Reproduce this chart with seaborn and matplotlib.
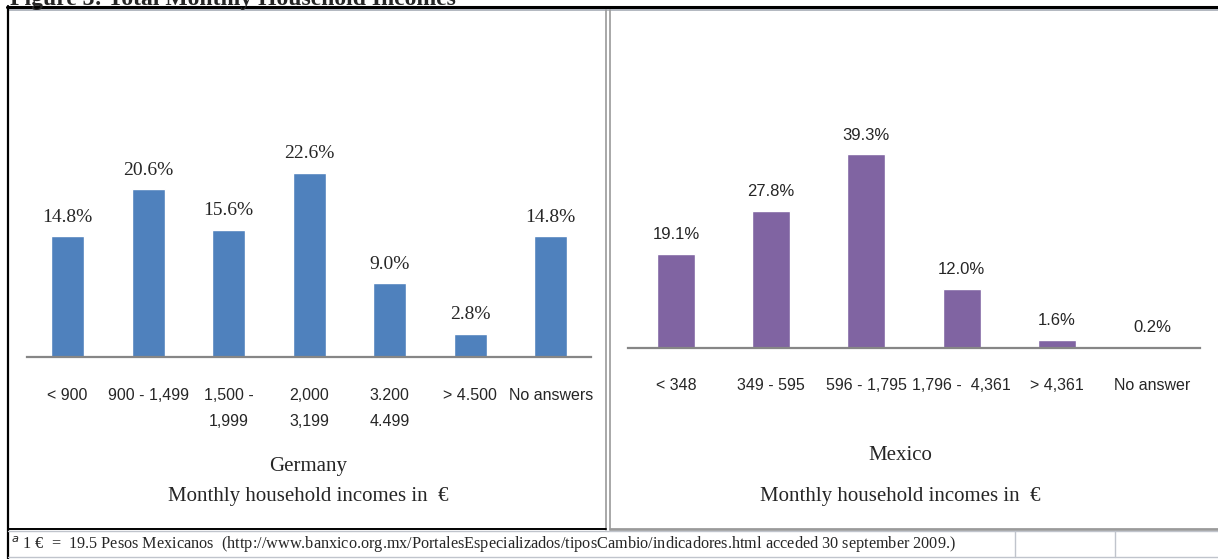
import matplotlib
matplotlib.use("Agg")
import matplotlib.pyplot as plt
import seaborn as sns
import pandas as pd
from matplotlib.lines import Line2D

# ---- data ----
de_categories = ["< 900", "900 - 1,499", "1,500 -\n1,999", "2,000\n3,199", "3.200\n4.499", "> 4.500", "No answers"]
de_values = [14.8, 20.6, 15.6, 22.6, 9.0, 2.8, 14.8]
mx_categories = ["< 348", "349 - 595", "596 - 1,795", "1,796 -  4,361", "> 4,361", "No answer"]
mx_values = [19.1, 27.8, 39.3, 12.0, 1.6, 0.2]
de_title = "Germany"
mx_title = "Mexico"
xlabel = "Monthly household incomes in  \u20ac"
footnote = "$^{a}$ 1 \u20ac  =  19.5 Pesos Mexicanos  (http://www.banxico.org.mx/PortalesEspecializados/tiposCambio/indicadores.html acceded 30 september 2009.)"
fig_title = "Figure 3: Total Monthly Household Incomes"

sns.set_theme(style="white")
plt.rcParams['font.family'] = ['Liberation Sans Narrow', 'Liberation Sans', 'DejaVu Sans']

W, H = 1218, 559
fig = plt.figure(figsize=(W / 100, H / 100), dpi=100)

def fx(px):
    return px / W

def fy(py):
    return 1 - py / H

serif = ['Liberation Serif', 'DejaVu Serif']

# ---- left axes (Germany) ----
L_base, L_top, L_scale = 356.5, 40, 8.12
axL = fig.add_axes([fx(27.3), fy(L_base), fx(591 - 27.3), (L_base - L_top) / H])
dfL = pd.DataFrame({"cat": de_categories, "val": de_values})
sns.barplot(data=dfL, x="cat", y="val", color="#4F81BD", saturation=1, width=0.41, ax=axL)
axL.set_ylim(0, (L_base - L_top) / L_scale)
axL.set_xlim(-0.5, len(de_categories) - 0.5)
for i, v in enumerate(de_values):
    axL.text(i, v + 1.3, f"{v:.1f}%", ha="center", va="bottom", fontsize=14,
             family=serif)

# ---- right axes (Mexico) ----
R_base, R_top, R_scale = 347.7, 53, 4.93
axR = fig.add_axes([fx(628.4), fy(R_base), fx(1199.6 - 628.4), (R_base - R_top) / H])
dfR = pd.DataFrame({"cat": mx_categories, "val": mx_values})
sns.barplot(data=dfR, x="cat", y="val", color="#8064A2", saturation=1, width=0.40, ax=axR)
axR.set_ylim(0, (R_base - R_top) / R_scale)
axR.set_xlim(-0.5, len(mx_categories) - 0.5)
for i, v in enumerate(mx_values):
    axR.text(i, v + 2.3, f"{v:.1f}%", ha="center", va="bottom", fontsize=12)

for ax, pad in ((axL, 23), (axR, 22)):
    for s in ("top", "right", "left"):
        ax.spines[s].set_visible(False)
    ax.spines["bottom"].set_color("#868686")
    ax.spines["bottom"].set_linewidth(1.6)
    ax.set_yticks([])
    ax.set_xlabel("")
    ax.set_ylabel("")
    ax.tick_params(axis="x", length=0, pad=pad, labelsize=11.5)
    ax.set_facecolor("none")
    for lab in ax.get_xticklabels():
        lab.set_verticalalignment("top")
        lab.set_linespacing(1.85)

# titles
fig.text(fx(308), fy(467), de_title, ha="center", va="center", fontsize=15, family=serif)
fig.text(fx(308), fy(497), xlabel, ha="center", va="center", fontsize=15, family=serif)
fig.text(fx(900), fy(455), mx_title, ha="center", va="center", fontsize=15, family=serif)
fig.text(fx(900), fy(497), xlabel, ha="center", va="center", fontsize=15, family=serif)

# footnote
fig.text(fx(11), fy(545), footnote, ha="left", va="center", fontsize=11.7, family=serif)

# figure title (clipped by the top edge as in the reference)
fig.text(fx(10), fy(-1), fig_title, ha="left", va="center", fontsize=17,
         fontweight="bold", family=serif)

# ---- borders ----
def line(x0, y0, x1, y1, color="black", lw=1.0):
    fig.add_artist(Line2D([fx(x0), fx(x1)], [fy(y0), fy(y1)], color=color, lw=lw))

line(7, 6.5, 1218, 6.5, "black", 2.2)       # top
line(8, 9.5, 1218, 9.5, "#A6ABB5", 1.2)     # gray under top
line(8, 6, 8, 559, "black", 1.6)            # left
line(606, 10, 606, 530, "#9A9A9A", 1.2)     # divider
line(610, 10, 610, 530, "#9A9A9A", 1.2)
line(8, 529, 606, 529, "black", 1.4)        # bottom of left panel
line(610, 529, 1218, 529, "#9A9A9A", 2.0)   # bottom of right panel
line(8, 531, 1218, 531, "#C0C4CC", 1.0)
line(8, 557, 1218, 557, "#C0C4CC", 1.0)
line(1015, 531, 1015, 557, "#C0C4CC", 1.0)
line(1115, 531, 1115, 557, "#C0C4CC", 1.0)

fig.savefig("out.png", dpi=100)
